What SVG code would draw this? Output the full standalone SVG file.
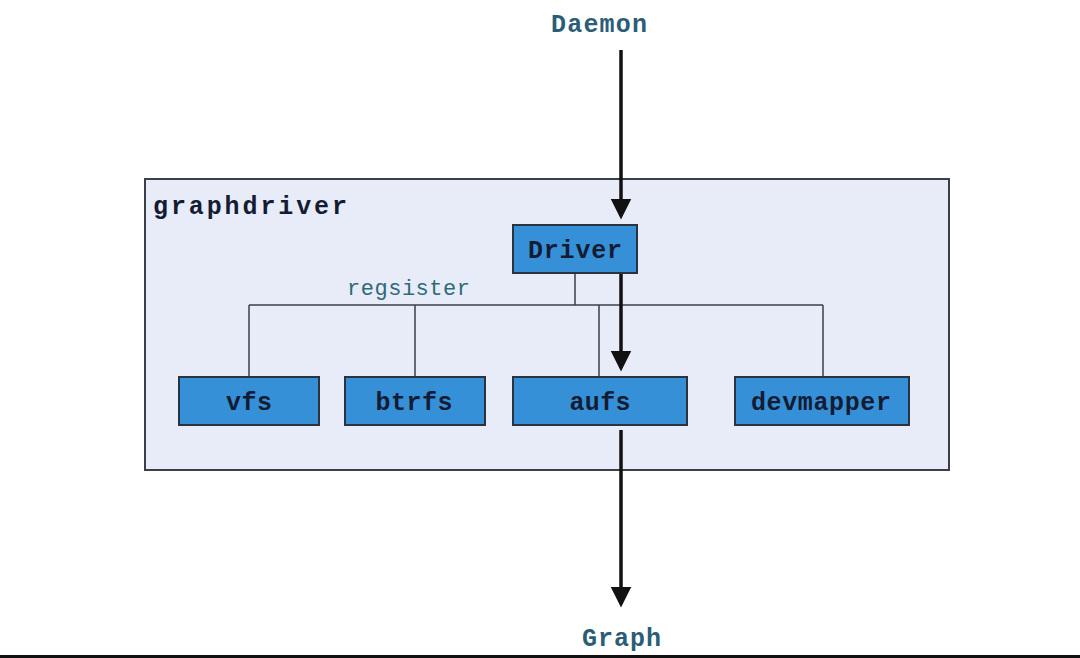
<svg xmlns="http://www.w3.org/2000/svg" width="1080" height="658" viewBox="0 0 1080 658">
<style>
.lbl{font-family:"Liberation Mono","DejaVu Sans Mono",monospace;font-weight:bold;font-size:25px;fill:#141c33}
.ext{font-family:"Liberation Mono","DejaVu Sans Mono",monospace;font-weight:bold;font-size:25px;fill:#2b5d78}
.reg{font-family:"Liberation Mono","DejaVu Sans Mono",monospace;font-size:22px;fill:#2e6b78}
.box{fill:#3690d8;stroke:#2a3340;stroke-width:2}
.tree{fill:none;stroke:#3a3f48;stroke-width:1.5}
.arr{fill:none;stroke:#111;stroke-width:3.5;marker-end:url(#ah)}
</style>
<defs>
<marker id="ah" markerWidth="6" markerHeight="6" refX="5" refY="3" orient="auto" markerUnits="strokeWidth">
<path d="M0,0 L6,3 L0,6 Z" fill="#111"/>
</marker>
</defs>
<rect width="1080" height="658" fill="#ffffff"/>
<g id="graphdriver">
<rect x="145" y="179" width="804" height="291" fill="#e8ecf8" stroke="#3a3f48" stroke-width="2"/>
<text class="lbl" x="153" y="214" textLength="194" lengthAdjust="spacing">graphdriver</text>
</g>
<g id="connectors">
<path class="tree" d="M575,273 V305 M249,305 H823 M249,305 V377 M415,305 V377 M599,305 V377 M823,305 V377"/>
<text class="reg" x="347" y="295" textLength="123" lengthAdjust="spacing">regsister</text>
<line class="arr" x1="621" y1="50" x2="621" y2="216"/>
<line class="arr" x1="621" y1="273" x2="621" y2="368"/>
<line class="arr" x1="621" y1="430" x2="621" y2="604"/>
</g>
<g id="daemon"><text class="ext" x="551" y="32" textLength="96" lengthAdjust="spacing">Daemon</text></g>
<g id="graph"><text class="ext" x="582" y="646" textLength="79" lengthAdjust="spacing">Graph</text></g>
<g id="driver"><rect class="box" x="513" y="225" width="124" height="48"/><text class="lbl" x="575" y="258" text-anchor="middle" textLength="94" lengthAdjust="spacing">Driver</text></g>
<g id="vfs"><rect class="box" x="179" y="377" width="140" height="48"/><text class="lbl" x="249" y="410" text-anchor="middle" textLength="46" lengthAdjust="spacing">vfs</text></g>
<g id="btrfs"><rect class="box" x="345" y="377" width="140" height="48"/><text class="lbl" x="414" y="410" text-anchor="middle" textLength="77" lengthAdjust="spacing">btrfs</text></g>
<g id="aufs"><rect class="box" x="513" y="377" width="174" height="48"/><text class="lbl" x="600" y="410" text-anchor="middle" textLength="61" lengthAdjust="spacing">aufs</text></g>
<g id="devmapper"><rect class="box" x="735" y="377" width="174" height="48"/><text class="lbl" x="821" y="410" text-anchor="middle" textLength="140" lengthAdjust="spacing">devmapper</text></g>
<rect x="0" y="655" width="1080" height="3" fill="#111"/>
</svg>
